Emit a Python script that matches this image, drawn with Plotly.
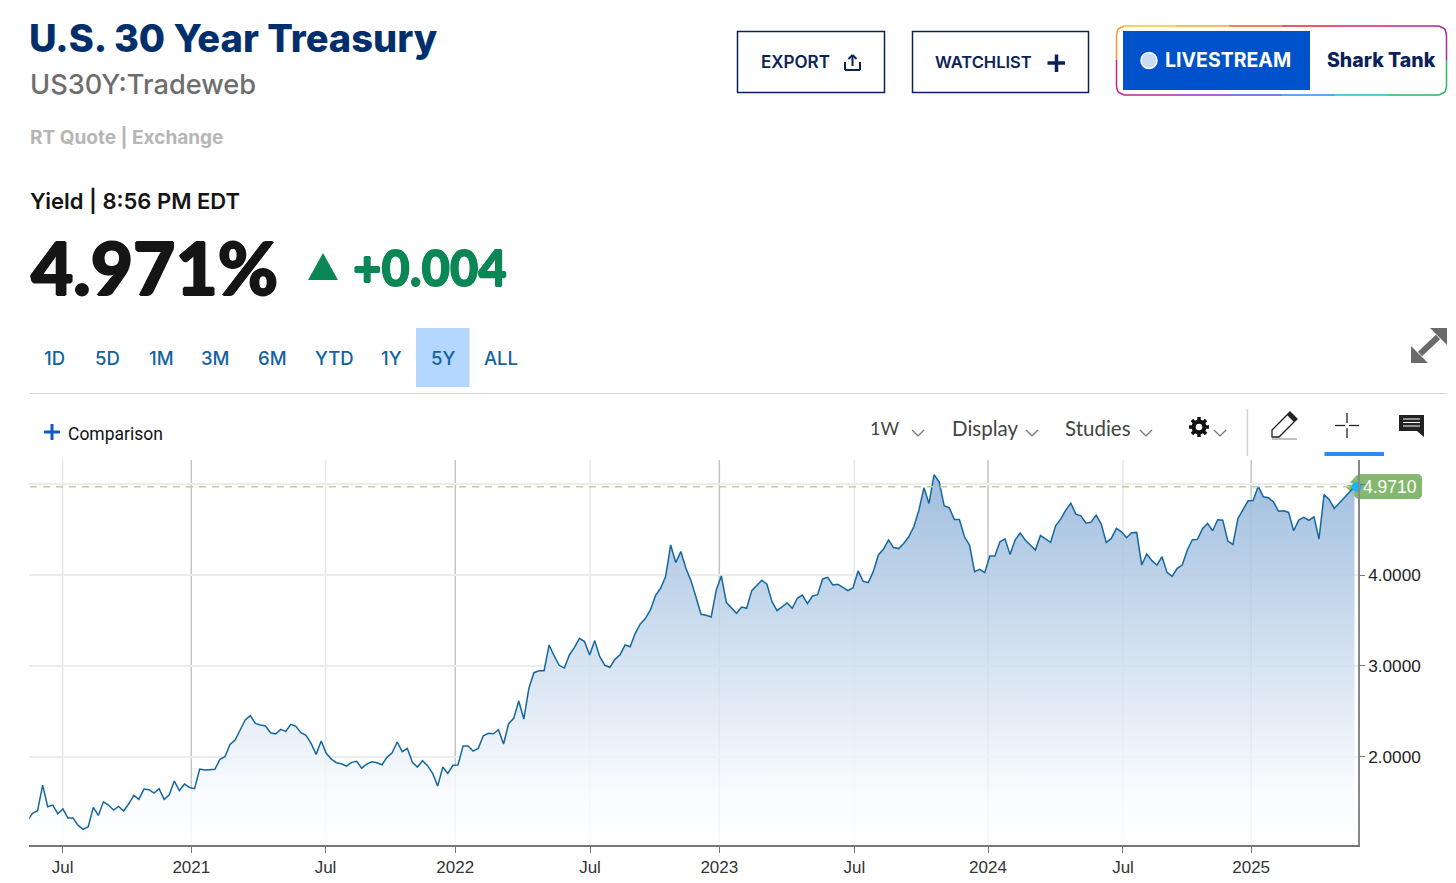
"""
U.S. 30 Year Treasury yield quote page, 5Y weekly area chart.
"""

import math

import plotly.graph_objects as go

WIDTH = 1456
HEIGHT = 883

# weekly yield (one value per bar)
yields_2020_22 = [
    1.295, 1.376, 1.405, 1.688, 1.449, 1.468, 1.372, 1.424, 1.325, 1.325,
    1.244, 1.200, 1.229, 1.442, 1.354, 1.504, 1.468, 1.413, 1.453, 1.402,
    1.482, 1.574, 1.530, 1.644, 1.637, 1.600, 1.648, 1.530, 1.582, 1.732,
    1.626, 1.699, 1.662, 1.648, 1.864, 1.853, 1.857, 1.861, 1.971, 2.000,
    2.136, 2.184, 2.294, 2.404, 2.452, 2.367, 2.349, 2.338, 2.264, 2.250,
    2.301, 2.279, 2.356, 2.334, 2.264, 2.235, 2.147, 2.026, 2.173, 2.037,
    1.974, 1.934, 1.923, 1.897, 1.938, 1.949, 1.875, 1.919, 1.945, 1.934,
    1.912, 1.993, 2.044, 2.162, 2.055, 2.092, 1.938, 1.886, 1.956, 1.901,
    1.816, 1.677, 1.886, 1.816, 1.905, 1.908, 2.117, 2.117, 2.062, 2.092,
]
yields_2022_23 = [
    2.231, 2.257, 2.253, 2.297, 2.140, 2.363, 2.422, 2.613, 2.415, 2.753,
    2.925, 2.947, 2.947, 3.230, 3.109, 3.006, 2.976, 3.120, 3.204, 3.303,
    3.267, 3.120, 3.278, 3.101, 3.006, 2.984, 3.072, 3.123, 3.230, 3.211,
    3.358, 3.461, 3.520, 3.615, 3.773, 3.854, 3.982, 4.331, 4.137, 4.258,
    4.074, 3.938, 3.755, 3.568, 3.557, 3.538, 3.836, 3.990, 3.696, 3.634,
    3.579, 3.648, 3.634, 3.828, 3.891, 3.942, 3.898, 3.707, 3.608, 3.648,
    3.692, 3.634, 3.744, 3.780, 3.685, 3.769, 3.784, 3.957, 3.975, 3.891,
    3.898, 3.865, 3.828, 3.861, 4.045, 3.931, 3.916, 4.037, 4.221, 4.283,
    4.386, 4.302, 4.291,
]
yields_2023_25 = [
    4.348, 4.421, 4.531, 4.714, 4.960, 4.788, 5.103, 5.026, 4.762, 4.740,
    4.612, 4.612, 4.421, 4.330, 4.037, 4.062, 4.026, 4.209, 4.209, 4.366,
    4.399, 4.227, 4.385, 4.462, 4.385, 4.330, 4.275, 4.436, 4.399, 4.359,
    4.542, 4.615, 4.714, 4.791, 4.670, 4.652, 4.571, 4.582, 4.659, 4.560,
    4.359, 4.403, 4.513, 4.476, 4.410, 4.465, 4.469, 4.110, 4.231, 4.158,
    4.110, 4.201, 4.029, 3.985, 4.073, 4.110, 4.275, 4.388, 4.392, 4.509,
    4.568, 4.487, 4.608, 4.604, 4.374, 4.337, 4.623, 4.725, 4.817, 4.821,
    4.978, 4.861, 4.850, 4.806, 4.703, 4.707, 4.689, 4.487, 4.604, 4.634,
    4.601, 4.641, 4.396, 4.886, 4.832, 4.733, 4.795, 4.850, 4.916, 4.971,
]
yields = yields_2020_22 + yields_2022_23 + yields_2023_25
bars = list(range(len(yields)))

# x axis is ordinal (bar number), as in the original chart
month_bars = [6.96, 58.85, 111.07, 163.25, 216.3]
month_labels = ['Jul', 'Jul', 'Jul', 'Jul', 'Jul']
year_bars = [32.35, 84.47, 136.6, 189.65, 241.6]
year_labels = ['2021', '2022', '2023', '2024', '2025']

y_ticks = [2, 3, 4, 5]
y_labels = ['2.0000', '3.0000', '4.0000', '']

current_yield = 4.971
range_labels = ['1D', '5D', '1M', '3M', '6M', 'YTD', '1Y', '5Y', 'ALL']
range_centers = [54, 107, 161, 215, 272, 334, 391, 443, 501]

NAVY = '#0a2259'
TITLE_BLUE = '#002f6c'
RANGE_BLUE = '#12639f'
GREEN = '#0a8754'
LINE_BLUE = '#14679f'


def px(x):
    return x / WIDTH


def py(y):
    return 1 - y / HEIGHT


def add_text(fig, x, y, text, size, color, font='Inter', weight=400,
             anchor='left', shadow='none'):
    fig.add_annotation(x=px(x), y=py(y), xref='paper', yref='paper',
                       text=text, showarrow=False, xanchor=anchor,
                       yanchor='middle', align=anchor,
                       font=dict(family=font, size=size, color=color,
                                 weight=weight, shadow=shadow),
                       borderpad=0)


def add_line(fig, x0, y0, x1, y1, color, width=1.5):
    fig.add_shape(type='line', xref='paper', yref='paper',
                  x0=px(x0), y0=py(y0), x1=px(x1), y1=py(y1),
                  line=dict(color=color, width=width))


def add_box(fig, x0, y0, x1, y1, fill, line=None, width=1.5):
    fig.add_shape(type='rect', xref='paper', yref='paper',
                  x0=px(x0), y0=py(y0), x1=px(x1), y1=py(y1),
                  fillcolor=fill,
                  line=dict(color=line or fill, width=width if line else 0))


def add_disc(fig, x, y, radius, fill, line=None, width=1.5):
    fig.add_shape(type='circle', xref='paper', yref='paper',
                  x0=px(x - radius), x1=px(x + radius),
                  y0=py(y + radius), y1=py(y - radius),
                  fillcolor=fill,
                  line=dict(color=line or fill, width=width if line else 0))


def add_poly(fig, points, fill='rgba(0,0,0,0)', line=None, width=1.5,
             layer='above'):
    path = 'M ' + ' L '.join(f'{px(x):.5f},{py(y):.5f}' for x, y in points)
    fig.add_shape(type='path', xref='paper', yref='paper', layer=layer,
                  path=path + ' Z', fillcolor=fill,
                  line=dict(color=line or fill, width=width if line else 0))


def add_poly_open(fig, points, color='#777777', width=1.2):
    for (x0, y0), (x1, y1) in zip(points, points[1:]):
        add_line(fig, x0, y0, x1, y1, color, width)


def add_chevron(fig, x, y):
    add_poly_open(fig, [(x - 6, y - 3), (x, y + 3), (x + 6, y - 3)])


def heavy(color, amount=1):
    # Lato only has a bold here, the quote figures are heavier than that
    return (f'{amount}px 0 0 {color}, -{amount}px 0 0 {color}, '
            f'0 {amount}px 0 {color}, 0 -{amount}px 0 {color}')


def draw_header(fig):
    add_text(fig, 28, 38, 'U.S. 30 Year Treasury', 38, TITLE_BLUE, weight=800)
    add_text(fig, 29, 84, 'US30Y:Tradeweb', 27.2, '#6e6e6e', weight=500)
    add_text(fig, 29, 137, 'RT Quote | Exchange', 19, '#b6b6b6', weight=700)
    add_text(fig, 29, 201, 'Yield | 8:56 PM EDT', 22, '#151515', weight=600)
    add_text(fig, 30, 267, '4.971%', 73, '#151515', font='Lato', weight=900,
             shadow=heavy('#151515'))
    add_poly(fig, [(308, 280), (323, 253), (338, 280)], fill=GREEN)
    add_text(fig, 352, 267, '+0.004', 49, GREEN, font='Lato', weight=900,
             shadow=heavy(GREEN, 0.7))


def draw_buttons(fig):
    add_box(fig, 737.5, 31.5, 884.5, 92.5, '#ffffff', NAVY)
    add_text(fig, 760, 62, 'EXPORT', 17, NAVY, weight=600)
    add_poly_open(fig, [(845, 62), (845, 70), (860, 70), (860, 62)], NAVY, 2)
    add_line(fig, 852.5, 55, 852.5, 66, NAVY, 2)
    add_poly_open(fig, [(848.5, 59), (852.5, 55), (856.5, 59)], NAVY, 2)

    add_box(fig, 912.5, 31.5, 1088.5, 92.5, '#ffffff', NAVY)
    add_text(fig, 934, 62, 'WATCHLIST', 16.5, NAVY, weight=600)
    add_line(fig, 1047.5, 63, 1065, 63, NAVY, 3.5)
    add_line(fig, 1056.5, 54.5, 1056.5, 72, NAVY, 3.5)

    # rainbow frame around the livestream pill
    top_colors = ['#f4c430', '#f6a623', '#ef5a28', '#e0203c', '#d4206e',
                  '#b5209a']
    bottom_colors = ['#c0209a', '#8a35c0', '#4a55d8', '#2a8be8', '#20b8c8',
                     '#30b060']
    xs = [1124, 1176, 1229, 1282, 1335, 1388, 1439]
    for i in range(6):
        add_line(fig, xs[i], 26, xs[i + 1], 26, top_colors[i])
        add_line(fig, xs[i], 95, xs[i + 1], 95, bottom_colors[i])
    add_poly_open(fig, [(1124, 26), (1118, 29), (1116.5, 35), (1116.5, 60)],
                  '#f0a030', 1.5)
    add_poly_open(fig, [(1116.5, 60), (1116.5, 87), (1118, 92), (1124, 95)],
                  '#d0207c', 1.5)
    add_poly_open(fig, [(1439, 26), (1445, 29), (1446.5, 35), (1446.5, 60)],
                  '#a8289c', 1.5)
    add_poly_open(fig, [(1446.5, 60), (1446.5, 87), (1445, 92), (1439, 95)],
                  '#30b060', 1.5)

    add_box(fig, 1123, 31, 1310, 90, '#0052cc')
    add_disc(fig, 1149, 60.5, 8, '#c9dbf6', '#ffffff')
    add_text(fig, 1164, 60, 'LIVESTREAM', 19.5, '#ffffff', weight=700)
    add_text(fig, 1326, 60, 'Shark Tank', 19.5, NAVY, weight=800)


def draw_range_bar(fig):
    add_box(fig, 416, 328, 469.5, 387, '#b3d7ff')
    for label, center in zip(range_labels, range_centers):
        add_text(fig, center, 358, label, 18.5, RANGE_BLUE, weight=500,
                 anchor='center')
    add_line(fig, 30, 393.5, 1447, 393.5, '#d4d4d4', 1.2)

    # expand arrows
    add_line(fig, 1420, 354, 1438, 337, '#6a6a6a', 6)
    add_poly(fig, [(1411, 363), (1411, 346), (1428, 363)], fill='#6a6a6a')
    add_poly(fig, [(1447, 328), (1447, 345), (1430, 328)], fill='#6a6a6a')


def draw_gear(fig, x, y):
    for k in range(8):
        angle = k * math.pi / 4
        add_line(fig, x, y, x + 10 * math.cos(angle), y + 10 * math.sin(angle),
                 '#111111', 3.5)
    add_disc(fig, x, y, 7.5, '#111111')
    add_disc(fig, x, y, 3.3, '#ffffff')


def draw_toolbar(fig):
    add_line(fig, 44, 432, 60, 432, '#0f5cc0', 3)
    add_line(fig, 52, 424, 52, 440, '#0f5cc0', 3)
    add_text(fig, 67, 434, 'Comparison', 17.5, '#111111', font='Roboto')

    add_text(fig, 869, 428, '1W', 18, '#444444', font='Lato')
    add_chevron(fig, 918, 433)
    add_text(fig, 951, 428, 'Display', 20.5, '#444444', font='Lato')
    add_chevron(fig, 1032, 433)
    add_text(fig, 1064, 428, 'Studies', 20.5, '#444444', font='Lato')
    add_chevron(fig, 1146, 433)
    draw_gear(fig, 1199, 427)
    add_chevron(fig, 1220, 433)
    add_line(fig, 1247.5, 409, 1247.5, 456, '#d0d0d0', 1.5)

    # pencil
    add_poly(fig, [(1272, 437), (1272, 430), (1290, 412), (1297, 419),
                   (1279, 437)], fill='#ffffff', line='#222222', width=1.3)
    add_poly(fig, [(1290, 412), (1297, 419), (1294, 422), (1287, 415)],
             fill='#222222')
    add_line(fig, 1272, 439, 1297, 439, '#999999', 1.2)

    # crosshair
    add_line(fig, 1335, 425.5, 1345, 425.5, '#222222', 1.3)
    add_line(fig, 1349, 425.5, 1359, 425.5, '#222222', 1.3)
    add_line(fig, 1347, 413, 1347, 423, '#222222', 1.3)
    add_line(fig, 1347, 428, 1347, 438, '#222222', 1.3)
    add_box(fig, 1324.5, 452, 1384, 456, '#2a8cf0')

    # notes icon
    add_poly(fig, [(1399, 415), (1424, 415), (1424, 437), (1417, 431),
                   (1399, 431)], fill='#222222')
    for y in [419, 422.5, 426]:
        add_line(fig, 1403, y, 1420, y, '#ffffff', 1)


def draw_chart(fig):
    fig.add_trace(go.Scatter(
        x=bars, y=yields, mode='lines',
        line=dict(color=LINE_BLUE, width=1.5),
        fill='tozeroy',
        fillgradient=dict(type='vertical', start=1.03, stop=5.1,
                          colorscale=[[0, 'rgba(255,255,255,0.85)'],
                                      [0.15, 'rgba(247,250,253,0.85)'],
                                      [1, 'rgba(150,183,219,0.9)']]),
        showlegend=False, hoverinfo='skip'))
    fig.add_trace(go.Scatter(
        x=[bars[-1] + 0.45], y=[current_yield], mode='markers',
        marker=dict(color='#19b5f1', size=10),
        showlegend=False, hoverinfo='skip', cliponaxis=False))

    for bar in month_bars:
        fig.add_shape(type='line', xref='x', yref='paper', layer='below',
                      x0=bar, x1=bar, y0=py(845), y1=py(460),
                      line=dict(color='#e8e8e8', width=1.5))
    for bar in year_bars:
        fig.add_shape(type='line', xref='x', yref='paper', layer='below',
                      x0=bar, x1=bar, y0=py(845), y1=py(460),
                      line=dict(color='#c4c4c4', width=1.5))

    fig.add_shape(type='line', xref='paper', yref='y', layer='above',
                  x0=px(30), x1=px(1350), y0=current_yield, y1=current_yield,
                  line=dict(color='#bcd09a', width=1.5, dash='7px,6px'))

    # price tag on the right axis
    add_poly(fig, [(1346, 487), (1356, 476), (1359, 474), (1419, 474),
                   (1422, 477), (1422, 496), (1419, 499), (1359, 499),
                   (1356, 498)], fill='#85b86f', layer='below')
    fig.add_annotation(x=px(1361), xref='paper', y=current_yield, yref='y',
                       text='4.9710', showarrow=False, xanchor='left',
                       yanchor='middle',
                       font=dict(family='Liberation Sans', size=17.5,
                                 color='#ffffff'))

    fig.update_xaxes(
        domain=[px(29.3), px(1358)], range=[0.367, 262.7],
        tickmode='array',
        tickvals=month_bars + year_bars,
        ticktext=month_labels + year_labels,
        ticks='outside', ticklen=6, tickcolor='#777777', tickwidth=1.2,
        tickfont=dict(family='Liberation Sans', size=17, color='#333333'),
        showgrid=False,
        showline=True, linecolor='#777777', linewidth=1.5,
        zeroline=False, fixedrange=True)
    fig.update_yaxes(
        domain=[py(845.3), py(460)], range=[1.025, 5.266],
        side='right', anchor='x',
        tickmode='array', tickvals=y_ticks, ticktext=y_labels,
        ticks='outside', ticklen=5, tickcolor='#777777', tickwidth=1.2,
        tickfont=dict(family='Liberation Sans', size=17.2, color='#222222'),
        showgrid=True, gridcolor='#ececec', gridwidth=1.5,
        showline=True, linecolor='#888888', linewidth=1.5,
        zeroline=False, fixedrange=True)


def main():
    fig = go.Figure()
    draw_chart(fig)
    draw_header(fig)
    draw_buttons(fig)
    draw_range_bar(fig)
    draw_toolbar(fig)
    fig.update_layout(
        width=WIDTH, height=HEIGHT, autosize=False,
        margin=dict(l=0, r=0, t=0, b=0),
        paper_bgcolor='#ffffff', plot_bgcolor='#ffffff',
        showlegend=False)
    fig.write_html('out.html', config={'displayModeBar': False},
                   post_script="document.body.style.margin = '0';")


if __name__ == '__main__':
    main()
